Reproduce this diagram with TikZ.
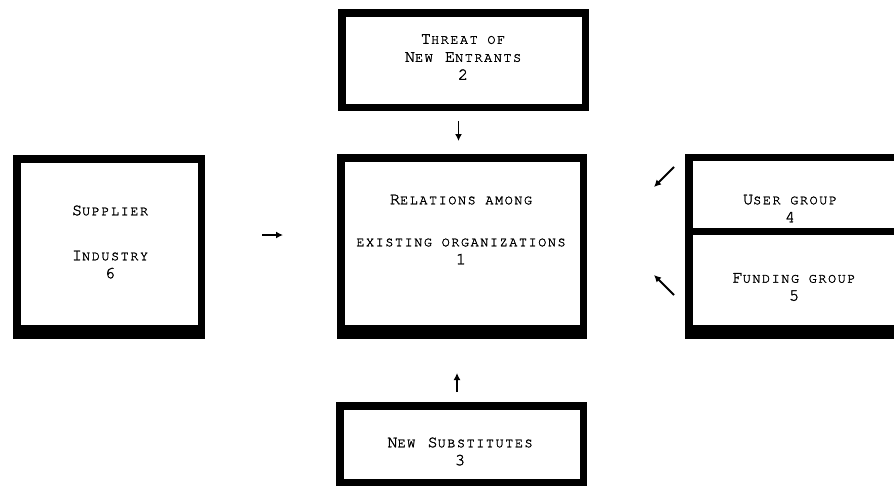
\documentclass[tikz,border=0pt]{standalone}
\usepackage{fontspec}
\newfontfamily\twfont[LetterSpace=11.5,FakeBold=1.6]{texgyrecursor-regular.otf}
\usetikzlibrary{arrows.meta,positioning,calc}
\newcommand\smc[1]{{\fontsize{13.5}{15}\selectfont\MakeUppercase{#1}}}

\begin{document}
\begin{tikzpicture}[x=1pt,y=-1pt,
    frame/.style={rectangle,draw,line width=7.5pt,inner sep=0pt,outer sep=0pt},
    txt/.style={align=center,inner sep=0pt,
                font=\twfont\fontsize{17}{18}\selectfont},
    line/.style={draw,-{Latex[length=7pt,width=7pt]},line width=1.8pt}]
    \clip (0,0) rectangle (894,485);
    % boxes
    \node[frame,minimum width=243.5pt,minimum height=94.5pt](entr) at (463.5,60){};
    \node[frame,minimum width=242.5pt,minimum height=171pt](main) at (462,243.25){};
    \node[frame,minimum width=184.5pt,minimum height=170pt](supp) at (109,243.75){};
    \node[frame,minimum width=217.5pt,minimum height=73.75pt](user) at (797.5,194.6){};
    \node[frame,minimum width=217.5pt,minimum height=97.25pt](fund) at (797.5,280.1){};
    \node[frame,minimum width=243.5pt,minimum height=77pt](subs) at (461.5,444.25){};
    \foreach \b in {main,supp,fund}
        \fill ([xshift=-3.75pt]\b.south west) rectangle ([xshift=3.75pt,yshift=-10pt]\b.south east);
    % texts
    \node[txt](entr-t) at (463,57){T\smc{hreat of}\\N\smc{ew} E\smc{ntrants}\\2};
    \node[txt](main-t) at (461,229.5){R\smc{elations among}\\[24pt]\smc{existing organizations}\\1};
    \node[txt](supp-t) at (110,242){S\smc{upplier}\\[27pt]I\smc{ndustry}\\6};
    \node[txt](user-t) at (790,208.5){U\smc{ser group}\\4};
    \node[txt](fund-t) at (794,287){F\smc{unding group}\\5};
    \node[txt](subs-t) at (460,451.5){N\smc{ew} S\smc{ubstitutes}\\3};
    % arrows
    \coordinate (a2s) at (458.5,121);
    \coordinate (a2e) at (458.5,141);
    \coordinate (a6s) at (262,235);
    \coordinate (a6e) at (283,235);
    \coordinate (a3s) at (457,392);
    \coordinate (a3e) at (457,373);
    \coordinate (a4s) at (674,167);
    \coordinate (a4e) at (654,187);
    \coordinate (a5s) at (674,295);
    \coordinate (a5e) at (654,275);
    \draw[line](a2s)--(a2e);
    \draw[line](a6s)--(a6e);
    \draw[line](a3s)--(a3e);
    \draw[line](a4s)--(a4e);
    \draw[line](a5s)--(a5e);
\end{tikzpicture}
\end{document}
